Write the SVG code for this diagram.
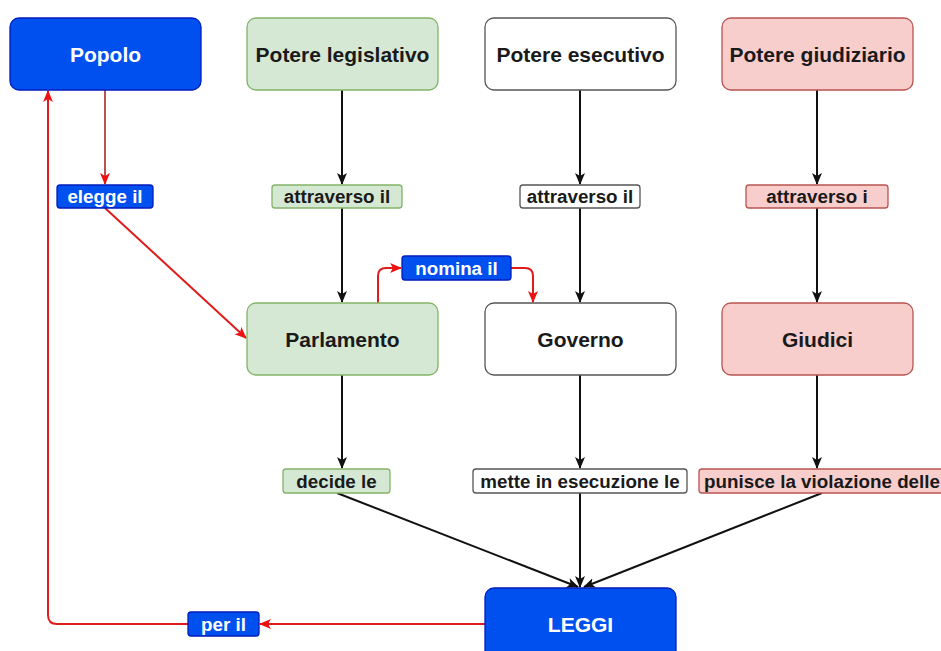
<svg xmlns="http://www.w3.org/2000/svg" width="941" height="651" viewBox="0 0 941 651">
<defs>
<style>
.node{stroke-width:1.3}
.blue{fill:#0050ef;stroke:#001dbc}
.green{fill:#d5e8d4;stroke:#82b366}
.white{fill:#ffffff;stroke:#555555}
.pink{fill:#f8cecc;stroke:#b85450}
.nt{font-family:"Liberation Sans",Arial,sans-serif;font-weight:bold;font-size:21px;text-anchor:middle;dominant-baseline:central;fill:#1a1a1a}
.lt{font-family:"Liberation Sans",Arial,sans-serif;font-weight:bold;font-size:18.8px;text-anchor:middle;dominant-baseline:central;fill:#1a1a1a}
.wt{fill:#ffffff}
.blk{fill:none;stroke:#111111;stroke-width:2}
.red{fill:none;stroke:#e01b1b;stroke-width:2}
.brn{fill:none;stroke:#b85450;stroke-width:2}
</style>
<marker id="ab" viewBox="0 0 12 12" refX="11" refY="6" markerWidth="12" markerHeight="12" markerUnits="userSpaceOnUse" orient="auto">
<path d="M0,1 L12,6 L0,11 L3,6 Z" fill="#111111"/>
</marker>
<marker id="ar" viewBox="0 0 12 12" refX="11" refY="6" markerWidth="12" markerHeight="12" markerUnits="userSpaceOnUse" orient="auto">
<path d="M0,1 L12,6 L0,11 L3,6 Z" fill="#ee1111"/>
</marker>
</defs>
<rect width="941" height="651" fill="#ffffff"/>

<g id="connectors">
<path class="blk" d="M342,90 V184" marker-end="url(#ab)"/>
<path class="blk" d="M342,208 V302" marker-end="url(#ab)"/>
<path class="blk" d="M342,375 V468" marker-end="url(#ab)"/>
<path class="blk" d="M337,493 L578,587" marker-end="url(#ab)"/>
<path class="blk" d="M580,90 V184" marker-end="url(#ab)"/>
<path class="blk" d="M580,208 V302" marker-end="url(#ab)"/>
<path class="blk" d="M580,375 V468" marker-end="url(#ab)"/>
<path class="blk" d="M580,493 V587" marker-end="url(#ab)"/>
<path class="blk" d="M817,90 V184" marker-end="url(#ab)"/>
<path class="blk" d="M817,208 V302" marker-end="url(#ab)"/>
<path class="blk" d="M817,375 V468" marker-end="url(#ab)"/>
<path class="blk" d="M822,493 L584,587" marker-end="url(#ab)"/>
<path class="brn" d="M105,90 V184" marker-end="url(#ar)"/>
<path class="red" d="M105,208 L246,338" marker-end="url(#ar)"/>
<path class="red" d="M378,303 V276 Q378,268 386,268 H401" marker-end="url(#ar)"/>
<path class="red" d="M511,268 H525 Q533,268 533,276 V302" marker-end="url(#ar)"/>
<path class="red" d="M485,624 H260" marker-end="url(#ar)"/>
<path class="red" d="M188,624 H57 Q48,624 48,615 V91" marker-end="url(#ar)"/>
</g>

<g id="popolo"><rect class="node blue" x="10" y="18" width="191" height="72" rx="9"/><text class="nt wt" x="105.5" y="54">Popolo</text></g>
<g id="potere-legislativo"><rect class="node green" x="247" y="18" width="191" height="72" rx="9"/><text class="nt" x="342.5" y="54">Potere legislativo</text></g>
<g id="potere-esecutivo"><rect class="node white" x="485" y="18" width="191" height="72" rx="9"/><text class="nt" x="580.5" y="54">Potere esecutivo</text></g>
<g id="potere-giudiziario"><rect class="node pink" x="722" y="18" width="191" height="72" rx="9"/><text class="nt" x="817.5" y="54">Potere giudiziario</text></g>

<g id="parlamento"><rect class="node green" x="247" y="303" width="191" height="72" rx="9"/><text class="nt" x="342.5" y="339">Parlamento</text></g>
<g id="governo"><rect class="node white" x="485" y="303" width="191" height="72" rx="9"/><text class="nt" x="580.5" y="339">Governo</text></g>
<g id="giudici"><rect class="node pink" x="722" y="303" width="191" height="72" rx="9"/><text class="nt" x="817.5" y="339">Giudici</text></g>

<g id="leggi"><rect class="node blue" x="485" y="588" width="191" height="72" rx="9"/><text class="nt wt" x="580.5" y="624">LEGGI</text></g>

<g id="lbl-elegge"><rect class="node blue" x="57" y="185" width="96" height="23" rx="3"/><text class="lt wt" x="105" y="196.5">elegge il</text></g>
<g id="lbl-attraverso-leg"><rect class="node green" x="272" y="185" width="130" height="23" rx="3"/><text class="lt" x="337" y="196.5">attraverso il</text></g>
<g id="lbl-attraverso-ese"><rect class="node white" x="520" y="185" width="120" height="23" rx="3"/><text class="lt" x="580" y="196.5">attraverso il</text></g>
<g id="lbl-attraverso-giu"><rect class="node pink" x="746" y="185" width="142" height="23" rx="3"/><text class="lt" x="817" y="196.5">attraverso i</text></g>
<g id="lbl-nomina"><rect class="node blue" x="402" y="256" width="109" height="24" rx="3"/><text class="lt wt" x="456.5" y="268">nomina il</text></g>
<g id="lbl-decide"><rect class="node green" x="283" y="469" width="107" height="24" rx="3"/><text class="lt" x="336.5" y="481">decide le</text></g>
<g id="lbl-mette"><rect class="node white" x="473" y="469" width="214" height="24" rx="3"/><text class="lt" x="580" y="481">mette in esecuzione le</text></g>
<g id="lbl-punisce"><rect class="node pink" x="699" y="469" width="246" height="24" rx="3"/><text class="lt" x="822" y="481">punisce la violazione delle</text></g>
<g id="lbl-per"><rect class="node blue" x="188" y="612" width="71" height="24" rx="3"/><text class="lt wt" x="223.5" y="624">per il</text></g>
</svg>
